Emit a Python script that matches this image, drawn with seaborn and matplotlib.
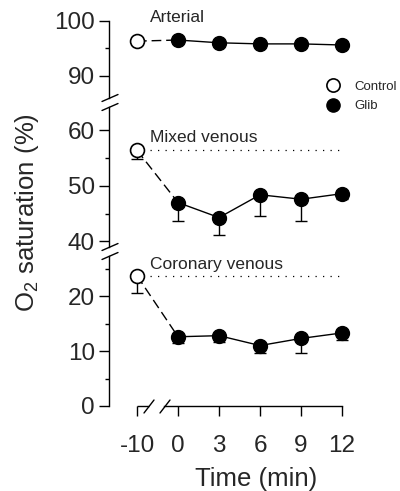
import matplotlib
matplotlib.use("Agg")
import matplotlib.pyplot as plt
from matplotlib.lines import Line2D
from matplotlib.ticker import MultipleLocator, FixedLocator
import numpy as np
import seaborn as sns

# Time points (min); -10 is the pre-drug control sample
times = [-10, 0, 3, 6, 9, 12]
panel_names = ["Arterial", "Mixed venous", "Coronary venous"]

arterial_control = 96.3
arterial_control_err = 0.0
arterial_glib = [96.5, 96.0, 95.8, 95.8, 95.6]
arterial_glib_err = [0.0, 0.0, 0.0, 0.0, 0.0]

mixed_control = 56.4
mixed_control_err = 1.6
mixed_glib = [47.0, 44.3, 48.4, 47.6, 48.6]
mixed_glib_err = [3.3, 3.1, 3.8, 3.9, 1.0]

coronary_control = 23.7
coronary_control_err = 3.1
coronary_glib = [12.6, 12.8, 11.0, 12.3, 13.3]
coronary_glib_err = [1.1, 1.2, 1.3, 2.7, 1.3]

sns.set_theme(style="ticks")
plt.rcParams["font.family"] = ["Liberation Sans", "DejaVu Sans"]
plt.rcParams["mathtext.fontset"] = "custom"
plt.rcParams["mathtext.rm"] = "Liberation Sans"

W, H = 400, 491
fig = plt.figure(figsize=(W / 100, H / 100), dpi=100)


def fx(px):
    return px / W


def fy(py):
    return 1 - py / H


left, right = 109, 354
x_lo, x_hi = -0.683, 5.29

# (top px, bottom px, ylim, major ticks)
layout = [
    (20.7, 98, (86.0, 100.0), [90, 100]),
    (107, 247, (39.0, 64.2), [40, 50, 60]),
    (256, 406, (0.0, 27.3), [0, 10, 20]),
]

data = [
    (arterial_control, arterial_control_err, arterial_glib, arterial_glib_err, False),
    (mixed_control, mixed_control_err, mixed_glib, mixed_glib_err, True),
    (coronary_control, coronary_control_err, coronary_glib, coronary_glib_err, True),
]

positions = np.arange(len(times))
axes = []
for (top, bot, ylim, majors), (ctrl, ctrl_err, glib, glib_err, ref) in zip(layout, data):
    ax = fig.add_axes([fx(left), fy(bot), fx(right - left), (bot - top) / H])
    ax.set_facecolor("none")
    ax.set_xlim(x_lo, x_hi)
    ax.set_ylim(*ylim)
    for s in ["top", "right", "bottom"]:
        ax.spines[s].set_visible(False)
    ax.spines["left"].set_linewidth(1.0)
    ax.spines["left"].set_color("black")
    ax.yaxis.set_major_locator(FixedLocator(majors))
    ax.yaxis.set_minor_locator(MultipleLocator(5))
    ax.tick_params(axis="y", which="major", length=7, width=1.0, pad=3,
                   labelsize=17.5, color="black", direction="out")
    ax.tick_params(axis="y", which="minor", length=3, width=1.0,
                   color="black", direction="out")
    ax.tick_params(axis="x", bottom=False, labelbottom=False)

    values = [ctrl] + list(glib)
    errs = [ctrl_err] + list(glib_err)

    # one-sided (lower) error bars
    ax.errorbar(positions, values, yerr=[errs, np.zeros(len(errs))], fmt="none",
                ecolor="black", elinewidth=1.0, capsize=4.5, capthick=1.0,
                zorder=2, clip_on=False)

    # control-level reference line
    if ref:
        ax.hlines(ctrl, 0.32, 5.02, colors="black", linewidth=0.9,
                  linestyles=(0, (1, 5)), zorder=1)

    # dashed link from control to first glibenclamide sample
    sns.lineplot(x=positions[:2], y=values[:2], ax=ax, color="black",
                 linewidth=1.0, linestyle=(0, (7, 3.5)), zorder=1)
    # glibenclamide time course
    sns.lineplot(x=positions[1:], y=glib, ax=ax, color="black",
                 linewidth=1.0, zorder=1)
    sns.scatterplot(x=positions[1:], y=glib, ax=ax, s=100, color="black",
                    edgecolor="black", linewidth=1.0, zorder=4, clip_on=False)
    sns.scatterplot(x=positions[:1], y=[ctrl], ax=ax, s=100, color="white",
                    edgecolor="black", linewidth=1.2, zorder=4, clip_on=False)
    for ln in ax.get_lines():
        ln.set_clip_on(False)
    axes.append(ax)

# bottom time axis, interrupted between -10 and 0
axb = axes[-1]
axb.spines["bottom"].set_visible(True)
axb.spines["bottom"].set_linewidth(1.0)
axb.spines["bottom"].set_color("black")
axb.spines["bottom"].set_bounds(0.66, positions[-1])
axb.set_xticks(positions)
axb.set_xticklabels([str(t) for t in times])
axb.tick_params(axis="x", bottom=True, labelbottom=True, length=7, width=1.0,
                pad=14, labelsize=17.5, color="black", direction="out")
fig.add_artist(Line2D([fx(136.5), fx(149)], [fy(406), fy(406)],
                      color="black", linewidth=1.0, solid_capstyle="butt"))

# axis-break marks on the y axis
for gap_top, gap_bot in [(98, 107), (247, 256)]:
    for yy in (gap_top, gap_bot):
        fig.add_artist(Line2D([fx(102), fx(118)], [fy(yy + 3.5), fy(yy - 3.5)],
                              color="black", linewidth=1.0))
# axis-break marks on the x axis
for x0, x1 in [(144, 154), (160, 170)]:
    fig.add_artist(Line2D([fx(x0), fx(x1)], [fy(413), fy(400)],
                          color="black", linewidth=1.0))

# panel titles
for name, ypx in zip(panel_names, [17, 137, 264]):
    fig.text(fx(150), fy(ypx), name, fontsize=12.5, ha="left", va="center")

# legend
handles = [
    Line2D([], [], linestyle="none", marker="o", markersize=9.5,
           markerfacecolor="white", markeredgecolor="black", markeredgewidth=1.2),
    Line2D([], [], linestyle="none", marker="o", markersize=9.5,
           markerfacecolor="black", markeredgecolor="black"),
]
fig.legend(handles, ["Control", "Glib"], loc="center left",
           bbox_to_anchor=(fx(325), fy(96.5)), frameon=False, fontsize=9.5,
           handletextpad=1.05, labelspacing=0.55, handlelength=1.2,
           borderaxespad=0, borderpad=0)

fig.text(fx(27), fy(213), "O$_2$ saturation (%)", rotation=90, fontsize=18.5,
         ha="center", va="center")
fig.text(fx(256), fy(479), "Time (min)", fontsize=18.5, ha="center", va="center")

fig.savefig("out.png", dpi=100)
